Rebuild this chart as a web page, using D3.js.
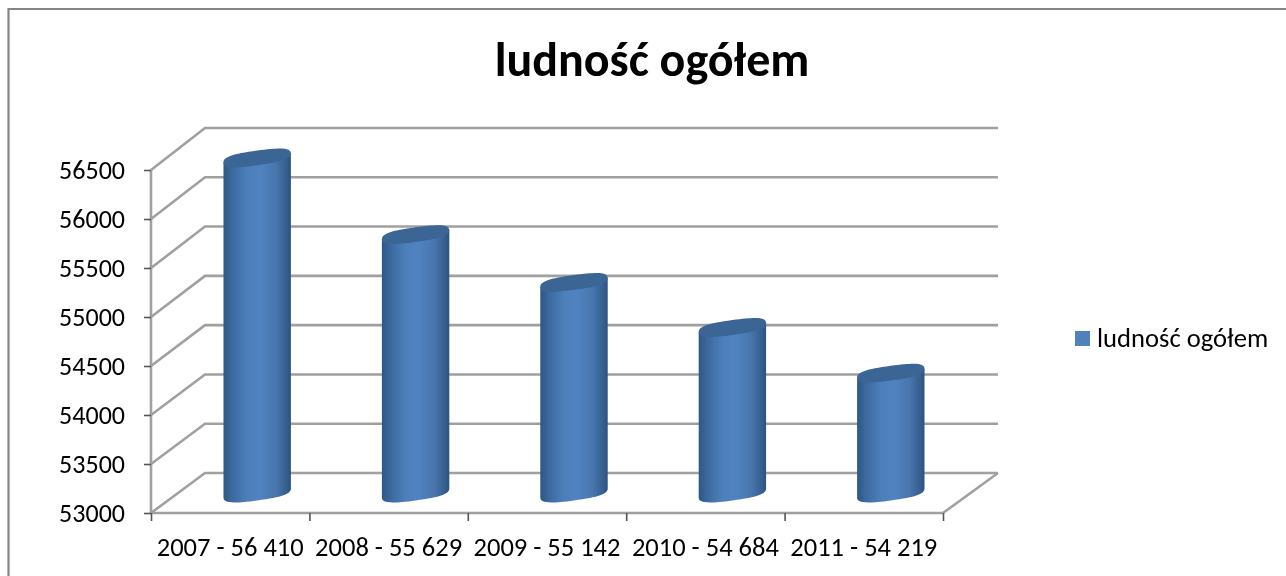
<!DOCTYPE html>
<html><head><meta charset="utf-8">
<style>html,body{margin:0;padding:0;background:#fff}svg{display:block}text{font-family:Carlito,"Open Sans","Noto Sans",sans-serif;fill:#000}</style>
<script src="https://cdn.jsdelivr.net/npm/d3@7/dist/d3.min.js"></script></head>
<body><svg id="c" width="1286" height="576"></svg>
<script>
const categories=["2007 - 56 410","2008 - 55 629","2009 - 55 142","2010 - 54 684","2011 - 54 219"];
const values=[56410,55629,55142,54684,54219];
const yTicks=[53000,53500,54000,54500,55000,55500,56000,56500];
const seriesName="ludność ogółem";
const chartTitle="ludność ogółem";

const svg=d3.select("#c");
const defs=svg.append("defs");
defs.append("filter").attr("id","soft").attr("x","-5%").attr("y","-5%").attr("width","110%").attr("height","110%")
  .append("feGaussianBlur").attr("stdDeviation",0.75);
defs.append("filter").attr("id","softT").append("feGaussianBlur").attr("stdDeviation",0.35);
const g=defs.append("linearGradient").attr("id","cyl");
[[0,"#2f5684"],[0.12,"#3b689d"],[0.35,"#4d7fba"],[0.55,"#5083c0"],[0.78,"#4875ad"],[0.93,"#365f8f"],[1,"#2c5280"]]
  .forEach(([o,c])=>g.append("stop").attr("offset",o).attr("stop-color",c));

const dx=54;
const x=d3.scaleBand().domain(categories).range([151,943]);
const y=d3.scaleLinear().domain([53000,56500]).range([513,170]);
const yBack=d3.scaleLinear().domain([53000,56500]).range([473,128]);
const grey="#a0a0a0";
const root=svg.append("g").attr("filter","url(#soft)");

// frame: top and left edges only reach the picture
root.append("path").attr("d","M8.5,590V9H1300").attr("fill","none").attr("stroke","#858585").attr("stroke-width",2.2);

// walls and gridlines
const wall=root.append("g").attr("fill","none").attr("stroke",grey).attr("stroke-width",2.6);
yTicks.forEach(t=>{
  wall.append("path").attr("d",`M151,${y(t)}L${151+dx},${yBack(t)}H${943+dx+1}`);
});
wall.append("path").attr("d",`M943,${y(53000)}L${943+dx+1},${yBack(53000)}`);
wall.append("path").attr("d",`M151,${y(56500)}V${y(53000)}H943`);

// axes
const ax=svg.append("g").attr("filter","url(#soft)");
const yAxis=ax.append("g").attr("transform","translate(151,0)").call(d3.axisLeft(y).tickValues(yTicks).tickSize(7).tickFormat(d3.format("d")));
yAxis.select(".domain").remove();
yAxis.selectAll("line").attr("stroke","#555").attr("stroke-width",1.6);
yAxis.selectAll("text").remove();
const xScale=d3.scaleLinear().domain([0,categories.length]).range([151,943]);
const xAxis=ax.append("g").attr("transform","translate(0,513)").call(d3.axisBottom(xScale).ticks(5).tickSize(8).tickFormat(""));
xAxis.select(".domain").remove();
xAxis.selectAll("line").attr("stroke","#555").attr("stroke-width",1.6);

// cylinders: rounded, sheared caps that meet the sides tangentially
const rx=33.7,ry=7.4,shear=-7.7,k=0.74;
const halfDown=(h)=>`C${-rx},${h+k*ry} ${-k*rx},${h+ry} 0,${h+ry}C${k*rx},${h+ry} ${rx},${h+k*ry} ${rx},${h}`;
const capUp=`C${rx},${-k*ry} ${k*rx},${-ry} 0,${-ry}C${-k*rx},${-ry} ${-rx},${-k*ry} ${-rx},0Z`;
const bars=root.append("g").selectAll("g").data(values).join("g");
bars.each(function(v,i){
  const cx=x(categories[i])+x.bandwidth()/2+dx/2;
  const yb=(y(53000)+yBack(53000))/2, yt=(y(v)+yBack(v))/2;
  const h=yb-yt;
  const s=d3.select(this).attr("transform",`translate(${cx},${yt}) skewY(${shear})`);
  s.append("path").attr("fill","url(#cyl)")
   .attr("d",`M${-rx},0V${h}${halfDown(h)}V0Z`);
  s.append("path").attr("fill","#3b6594").attr("d",`M${-rx},0${halfDown(0)}${capUp}`);
});

// labels
const lab=svg.append("g").attr("filter","url(#softT)");
lab.selectAll(".yl").data(yTicks).join("text").attr("x",125).attr("y",d=>y(d)+9)
  .attr("text-anchor","end").attr("font-size",26).text(d=>d);
lab.selectAll(".xl").data(categories).join("text").attr("x",d=>x(d)+x.bandwidth()/2).attr("y",556)
  .attr("text-anchor","middle").attr("font-size",26.5).text(d=>d);
lab.append("text").attr("x",652).attr("y",76).attr("text-anchor","middle").attr("font-weight",700).attr("font-size",48).text(chartTitle);
svg.append("rect").attr("x",1075).attr("y",331).attr("width",15).attr("height",15).attr("fill","#4f81bd");
lab.append("text").attr("x",1097).attr("y",347).attr("font-size",26.6).text(seriesName);
</script></body></html>
